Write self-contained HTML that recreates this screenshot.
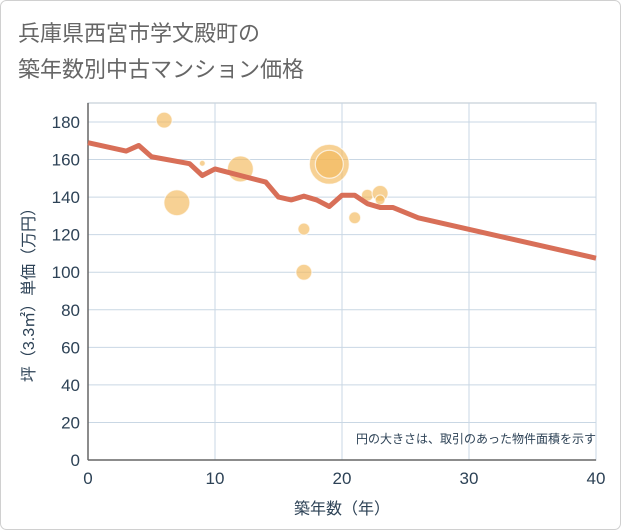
<!DOCTYPE html>
<html><head><meta charset="utf-8">
<style>
body{margin:0;background:#fff;}
svg{display:block;font-family:"Liberation Sans","Noto Sans CJK JP",sans-serif;}
</style></head><body>
<svg id="chart" width="621" height="530">
<rect x="0.5" y="0.5" width="620" height="529" rx="6" fill="#fff" stroke="#d0d0d0"/>
<text x="18" y="41" font-size="22" fill="#666" font-weight="normal">兵庫県西宮市学文殿町の</text>
<text x="18" y="77" font-size="22" fill="#666">築年数別中古マンション価格</text>
<g id="grid"></g>
<g id="axes"></g>
<g id="bubbles"></g>
<g id="line"></g>
<text x="596" y="443" font-size="12" fill="#2d4256" text-anchor="end">円の大きさは、取引のあった物件面積を示す</text>
<text x="342" y="514" font-size="16" fill="#2d4256" text-anchor="middle">築年数（年）</text>
<text transform="translate(34,291) rotate(-90)" font-size="16" fill="#2d4256" text-anchor="middle">坪（3.3㎡）単価（万円）</text>
</svg>
<script>
const xTicks=[0,10,20,30,40];
const yTicks=[0,20,40,60,80,100,120,140,160,180];
const lineX=[0,3,4,5,8,9,10,14,15,16,17,18,19,20,21,22,23,24,26,40];
const lineY=[169,164.5,167.5,161.5,157.8,151.5,155,148,140,138.5,140.5,138.5,135,141,141,136.5,134.5,134.5,129,107.5];
const bubX=[6,7,9,12,19,17,17,21,22,23,23,19];
const bubY=[181,137,158,155,157.5,123,100,129,141,142,138.5,157.5];
const bubR=[8,13,3,13,20,6,8,6,6,8,5,14];
const NS="http://www.w3.org/2000/svg";
const X0=88,X1=596,Y0=460,Y1=122;
const sx=v=>X0+(v-0)/(40-0)*(X1-X0);
const sy=v=>Y0-(v/180)*(Y0-Y1);
function mk(t,a,p){const e=document.createElementNS(NS,t);for(const k in a)e.setAttribute(k,a[k]);p.appendChild(e);return e;}
const grid=document.getElementById('grid'),axes=document.getElementById('axes');
mk('rect',{x:X0,y:103,width:X1-X0,height:Y0-103,fill:'none',stroke:'#b8c4cf'},grid);
yTicks.forEach(v=>{
 const l=mk('line',{x1:X0,x2:X1,y1:sy(v),y2:sy(v),stroke:'#c9d7e4','stroke-width':1},grid);
 
 
 const t=mk('text',{x:X0-8,y:sy(v)+6,'font-size':17,fill:'#2d4256','text-anchor':'end'},axes);
 t.textContent=v;
 
 
});
xTicks.forEach(v=>{
 const l=mk('line',{x1:sx(v),x2:sx(v),y1:103,y2:Y0,stroke:'#c9d7e4','stroke-width':1},grid);
 
 
 const t=mk('text',{x:sx(v),y:Y0+24,'font-size':17,fill:'#2d4256','text-anchor':'middle'},axes);
 t.textContent=v;
 
 
});
const ax=mk('line',{x1:X0,x2:X0,y1:103,y2:Y0,stroke:'#666','stroke-width':1.5},axes);


const bx=mk('line',{x1:X0,x2:X1,y1:Y0,y2:Y0,stroke:'#666','stroke-width':1.5},axes);


const bg=document.getElementById('bubbles');
bubX.forEach((v,i)=>{
 const c=mk('circle',{cx:sx(v),cy:sy(bubY[i]),r:bubR[i],fill:'#f2b85a','fill-opacity':0.65,stroke:'#fff','stroke-opacity':0.7,'stroke-width':1.2},bg);
 
 
});
const pts=lineX.map((v,i)=>sx(v)+','+sy(lineY[i])).join(' ');
const pl=mk('polyline',{points:pts,fill:'none',stroke:'#d86f58','stroke-width':5,'stroke-linejoin':'round'},document.getElementById('line'));


</script>
</body></html>
